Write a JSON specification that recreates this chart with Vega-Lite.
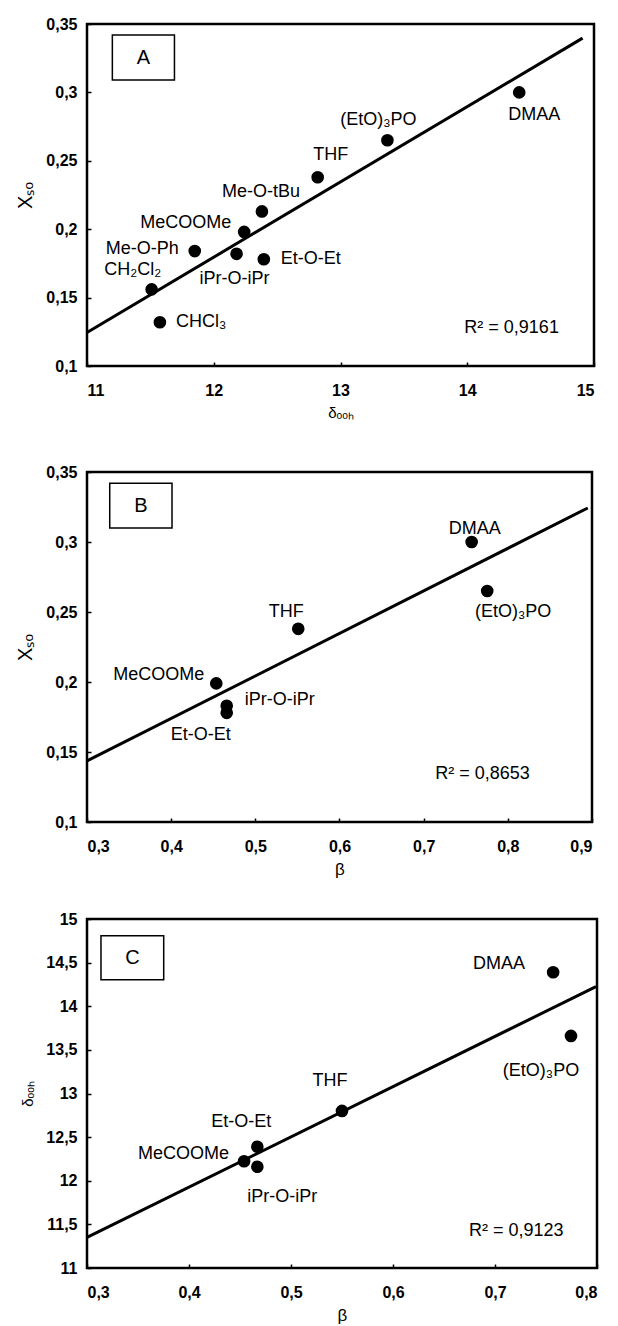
{
  "$schema": "https://vega.github.io/schema/vega-lite/v6.json",
  "padding": {"left": 14, "top": 14, "right": 5, "bottom": 0},
  "background": "white",
  "config": {
    "view": {"stroke": "black", "strokeWidth": 2.5},
    "axis": {
      "labelFont": "Liberation Sans", "labelFontSize": 16, "labelFontWeight": "bold", "labelColor": "black",
      "titleFont": "Liberation Sans", "titleFontSize": 17, "titleFontWeight": "normal", "titleColor": "black",
      "tickColor": "black", "tickSize": -4, "tickWidth": 1.5, "domain": false, "grid": false,
      "labelExpr": "replace(datum.label, '.', ',')"
    },
    "axisX": {"labelPadding": 20, "titlePadding": 7},
    "axisY": {"labelPadding": 14, "titlePadding": 10},
    "text": {"font": "Liberation Sans", "fontSize": 18, "color": "black"}
  },
  "datasets": {
    "A_pts": [
      {"id": "CH2Cl2", "label": "CH₂Cl₂", "x": 11.51, "y": 0.156},
      {"id": "CHCl3", "label": "CHCl₃", "x": 11.575, "y": 0.132},
      {"id": "MeOPh", "label": "Me-O-Ph", "x": 11.85, "y": 0.184},
      {"id": "iPr", "label": "iPr-O-iPr", "x": 12.18, "y": 0.182},
      {"id": "MeCOOMe", "label": "MeCOOMe", "x": 12.24, "y": 0.198},
      {"id": "MeOtBu", "label": "Me-O-tBu", "x": 12.38, "y": 0.213},
      {"id": "EtOEt", "label": "Et-O-Et", "x": 12.395, "y": 0.178},
      {"id": "THF", "label": "THF", "x": 12.82, "y": 0.238},
      {"id": "EtO3PO", "label": "(EtO)₃PO", "x": 13.37, "y": 0.265},
      {"id": "DMAA", "label": "DMAA", "x": 14.41, "y": 0.3}
    ],
    "A_fit": [{"x": 11, "y": 0.1245}, {"x": 14.91, "y": 0.3397}],
    "B_pts": [
      {"id": "MeCOOMe", "label": "MeCOOMe", "x": 0.4536, "y": 0.199},
      {"id": "iPr", "label": "iPr-O-iPr", "x": 0.466, "y": 0.183},
      {"id": "EtOEt", "label": "Et-O-Et", "x": 0.466, "y": 0.178},
      {"id": "THF", "label": "THF", "x": 0.551, "y": 0.238},
      {"id": "DMAA", "label": "DMAA", "x": 0.757, "y": 0.3},
      {"id": "EtO3PO", "label": "(EtO)₃PO", "x": 0.7755, "y": 0.265}
    ],
    "B_fit": [{"x": 0.3, "y": 0.1436}, {"x": 0.895, "y": 0.3243}],
    "C_pts": [
      {"id": "MeCOOMe", "label": "MeCOOMe", "x": 0.454, "y": 12.223},
      {"id": "EtOEt", "label": "Et-O-Et", "x": 0.467, "y": 12.39},
      {"id": "iPr", "label": "iPr-O-iPr", "x": 0.467, "y": 12.16},
      {"id": "THF", "label": "THF", "x": 0.55, "y": 12.8},
      {"id": "DMAA", "label": "DMAA", "x": 0.757, "y": 14.39},
      {"id": "EtO3PO", "label": "(EtO)₃PO", "x": 0.7745, "y": 13.66}
    ],
    "C_fit": [{"x": 0.3, "y": 11.352}, {"x": 0.799, "y": 14.2245}]
  },
  "vconcat": [
    {
      "width": 507, "height": 342,
      "layer": [
        {"data": {"name": "A_fit"}, "mark": {"type": "line", "color": "black", "strokeWidth": 3},
         "encoding": {
           "x": {"field": "x", "type": "quantitative", "scale": {"domain": [11, 15], "nice": false, "zero": false}, "axis": {"values": [11, 12, 13, 14, 15], "format": "~g", "title": "δₒₒₕ", "titleFontSize": 15}},
           "y": {"field": "y", "type": "quantitative", "scale": {"domain": [0.1, 0.35], "nice": false, "zero": false}, "axis": {"values": [0.1, 0.15, 0.2, 0.25, 0.3, 0.35], "format": "~g", "title": "Xₛₒ", "titleFontSize": 20}}
         }},
        {"data": {"values": [{"panel": "A", "r2": "R² = 0,9161"}]}, "mark": {"type": "rect", "fill": "white", "stroke": "black", "strokeWidth": 1.5},
         "encoding": {"x": {"datum": 11.2}, "x2": {"datum": 11.69}, "y": {"datum": 0.342}, "y2": {"datum": 0.309}}},
        {"data": {"values": [{"panel": "A", "r2": "R² = 0,9161"}]}, "mark": {"type": "text", "fontSize": 20},
         "encoding": {"x": {"datum": 11.445}, "y": {"datum": 0.3255}, "text": {"field": "panel"}}},
        {"data": {"values": [{"panel": "A", "r2": "R² = 0,9161"}]}, "mark": {"type": "text"},
         "encoding": {"x": {"datum": 14.35}, "y": {"datum": 0.128}, "text": {"field": "r2"}}},
        {"data": {"name": "A_pts"},
         "encoding": {"x": {"field": "x", "type": "quantitative"}, "y": {"field": "y", "type": "quantitative"}, "text": {"field": "label"}},
         "layer": [
          {"mark": {"type": "circle", "color": "black", "opacity": 1, "size": 160}},
          {"transform": [{"filter": "datum.id === 'CH2Cl2'"}], "mark": {"type": "text", "dx": -19, "dy": -19}},
          {"transform": [{"filter": "datum.id === 'CHCl3'"}], "mark": {"type": "text", "align": "left", "dx": 16, "dy": 0}},
          {"transform": [{"filter": "datum.id === 'MeOPh'"}], "mark": {"type": "text", "align": "right", "dx": -16, "dy": -2}},
          {"transform": [{"filter": "datum.id === 'iPr'"}], "mark": {"type": "text", "dx": -2, "dy": 25}},
          {"transform": [{"filter": "datum.id === 'MeCOOMe'"}], "mark": {"type": "text", "align": "right", "dx": -13, "dy": -9}},
          {"transform": [{"filter": "datum.id === 'MeOtBu'"}], "mark": {"type": "text", "dx": -1, "dy": -19}},
          {"transform": [{"filter": "datum.id === 'EtOEt'"}], "mark": {"type": "text", "align": "left", "dx": 17, "dy": 0}},
          {"transform": [{"filter": "datum.id === 'THF'"}], "mark": {"type": "text", "dx": 13, "dy": -22}},
          {"transform": [{"filter": "datum.id === 'EtO3PO'"}], "mark": {"type": "text", "dx": -9, "dy": -20}},
          {"transform": [{"filter": "datum.id === 'DMAA'"}], "mark": {"type": "text", "dx": 15, "dy": 23}}
         ]}
      ]
    },
    {
      "spacing": 30,
      "vconcat": [
        {
          "width": 505, "height": 350,
          "layer": [
            {"data": {"name": "B_fit"}, "mark": {"type": "line", "color": "black", "strokeWidth": 3},
             "encoding": {
               "x": {"field": "x", "type": "quantitative", "scale": {"domain": [0.3, 0.9], "nice": false, "zero": false}, "axis": {"values": [0.3, 0.4, 0.5, 0.6, 0.7, 0.8, 0.9], "format": "~g", "title": "β"}},
               "y": {"field": "y", "type": "quantitative", "scale": {"domain": [0.1, 0.35], "nice": false, "zero": false}, "axis": {"values": [0.1, 0.15, 0.2, 0.25, 0.3, 0.35], "format": "~g", "title": "Xₛₒ", "titleFontSize": 20}}
             }},
            {"data": {"values": [{"panel": "B", "r2": "R² = 0,8653"}]}, "mark": {"type": "rect", "fill": "white", "stroke": "black", "strokeWidth": 1.5},
             "encoding": {"x": {"datum": 0.327}, "x2": {"datum": 0.401}, "y": {"datum": 0.342}, "y2": {"datum": 0.31}}},
            {"data": {"values": [{"panel": "B", "r2": "R² = 0,8653"}]}, "mark": {"type": "text", "fontSize": 20},
             "encoding": {"x": {"datum": 0.364}, "y": {"datum": 0.326}, "text": {"field": "panel"}}},
            {"data": {"values": [{"panel": "B", "r2": "R² = 0,8653"}]}, "mark": {"type": "text"},
             "encoding": {"x": {"datum": 0.77}, "y": {"datum": 0.1346}, "text": {"field": "r2"}}},
            {"data": {"name": "B_pts"},
             "encoding": {"x": {"field": "x", "type": "quantitative"}, "y": {"field": "y", "type": "quantitative"}, "text": {"field": "label"}},
             "layer": [
              {"mark": {"type": "circle", "color": "black", "opacity": 1, "size": 160}},
              {"transform": [{"filter": "datum.id === 'MeCOOMe'"}], "mark": {"type": "text", "align": "right", "dx": -12, "dy": -8}},
              {"transform": [{"filter": "datum.id === 'iPr'"}], "mark": {"type": "text", "align": "left", "dx": 18, "dy": -6}},
              {"transform": [{"filter": "datum.id === 'EtOEt'"}], "mark": {"type": "text", "dx": -26, "dy": 22}},
              {"transform": [{"filter": "datum.id === 'THF'"}], "mark": {"type": "text", "dx": -12, "dy": -17}},
              {"transform": [{"filter": "datum.id === 'DMAA'"}], "mark": {"type": "text", "dx": 3, "dy": -13}},
              {"transform": [{"filter": "datum.id === 'EtO3PO'"}], "mark": {"type": "text", "dx": 26, "dy": 21}}
             ]}
          ]
        },
        {
          "width": 510, "height": 349,
          "layer": [
            {"data": {"name": "C_fit"}, "mark": {"type": "line", "color": "black", "strokeWidth": 3},
             "encoding": {
               "x": {"field": "x", "type": "quantitative", "scale": {"domain": [0.3, 0.8], "nice": false, "zero": false}, "axis": {"values": [0.3, 0.4, 0.5, 0.6, 0.7, 0.8], "format": "~g", "title": "β"}},
               "y": {"field": "y", "type": "quantitative", "scale": {"domain": [11, 15], "nice": false, "zero": false}, "axis": {"values": [11, 11.5, 12, 12.5, 13, 13.5, 14, 14.5, 15], "format": "~g", "title": "δₒₒₕ", "titleFontSize": 15}}
             }},
            {"data": {"values": [{"panel": "C", "r2": "R² = 0,9123"}]}, "mark": {"type": "rect", "fill": "white", "stroke": "black", "strokeWidth": 1.5},
             "encoding": {"x": {"datum": 0.3137}, "x2": {"datum": 0.3752}, "y": {"datum": 14.809}, "y2": {"datum": 14.305}}},
            {"data": {"values": [{"panel": "C", "r2": "R² = 0,9123"}]}, "mark": {"type": "text", "fontSize": 20},
             "encoding": {"x": {"datum": 0.3445}, "y": {"datum": 14.557}, "text": {"field": "panel"}}},
            {"data": {"values": [{"panel": "C", "r2": "R² = 0,9123"}]}, "mark": {"type": "text"},
             "encoding": {"x": {"datum": 0.7208}, "y": {"datum": 11.428}, "text": {"field": "r2"}}},
            {"data": {"name": "C_pts"},
             "encoding": {"x": {"field": "x", "type": "quantitative"}, "y": {"field": "y", "type": "quantitative"}, "text": {"field": "label"}},
             "layer": [
              {"mark": {"type": "circle", "color": "black", "opacity": 1, "size": 160}},
              {"transform": [{"filter": "datum.id === 'MeCOOMe'"}], "mark": {"type": "text", "align": "right", "dx": -15, "dy": -7}},
              {"transform": [{"filter": "datum.id === 'EtOEt'"}], "mark": {"type": "text", "dx": -16, "dy": -25}},
              {"transform": [{"filter": "datum.id === 'iPr'"}], "mark": {"type": "text", "dx": 25, "dy": 30}},
              {"transform": [{"filter": "datum.id === 'THF'"}], "mark": {"type": "text", "dx": -12, "dy": -30}},
              {"transform": [{"filter": "datum.id === 'DMAA'"}], "mark": {"type": "text", "align": "right", "dx": -28, "dy": -8}},
              {"transform": [{"filter": "datum.id === 'EtO3PO'"}], "mark": {"type": "text", "dx": -30, "dy": 35}}
             ]}
          ]
        }
      ]
    }
  ],
  "spacing": 40
}
